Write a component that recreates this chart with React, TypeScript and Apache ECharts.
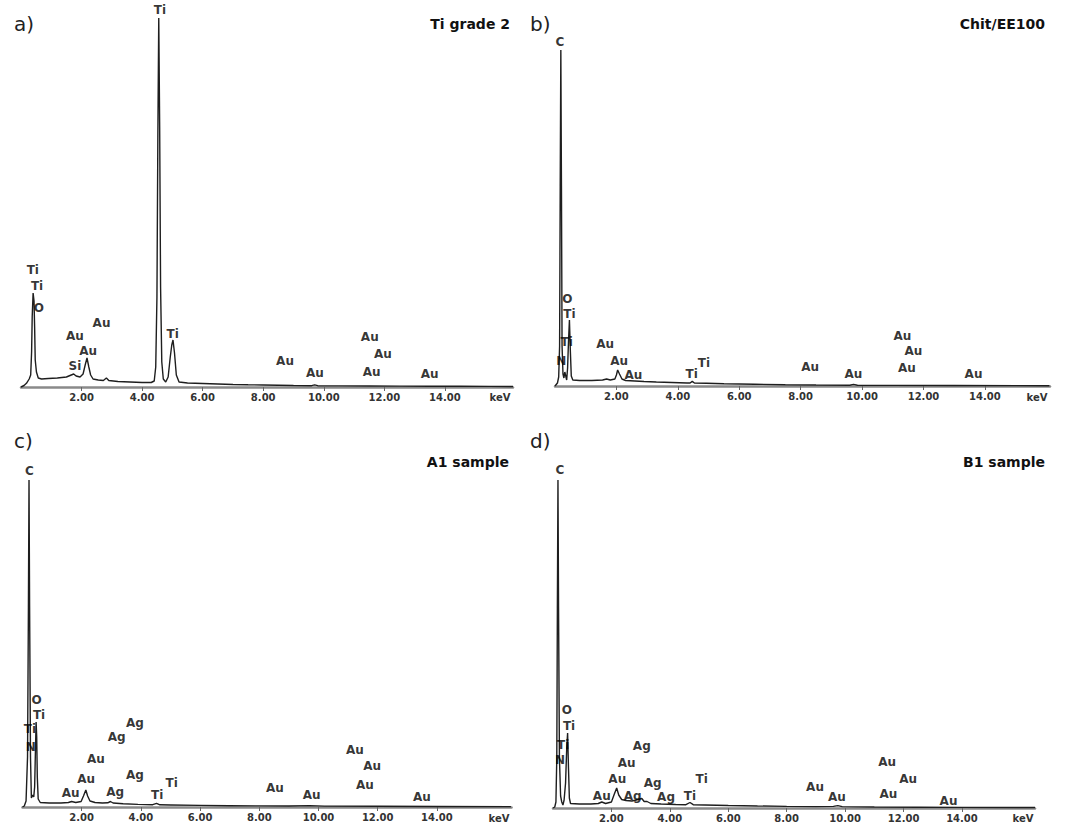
import React, { useEffect, useRef } from "react";
import * as echarts from "echarts";

// EDS spectra: [energy keV, intensity (counts, arbitrary units)]
const spectrumA: [number, number][] = [
  [0, 0], [0.1, 1.5], [0.18, 3.7], [0.27, 8], [0.32, 12], [0.35, 35], [0.37, 70], [0.4, 94], [0.43, 86],
  [0.45, 60], [0.47, 27], [0.51, 15], [0.57, 9], [0.68, 8], [0.9, 8.5], [1.2, 9], [1.5, 10], [1.66, 12],
  [1.74, 13], [1.82, 11], [1.95, 10], [2.05, 13], [2.12, 22], [2.18, 29], [2.24, 20], [2.3, 12], [2.38, 8],
  [2.55, 7], [2.72, 6.5], [2.82, 9], [2.9, 6.5], [3.2, 5.5], [3.6, 5], [4.0, 4.5], [4.3, 4.5], [4.4, 6],
  [4.45, 20], [4.49, 90], [4.52, 250], [4.55, 369], [4.58, 260], [4.61, 100], [4.65, 25], [4.7, 8],
  [4.78, 5], [4.86, 10], [4.93, 30], [4.98, 42], [5.02, 47], [5.07, 34], [5.13, 12], [5.22, 5], [5.5, 4],
  [6.0, 3.5], [6.5, 3], [7.0, 2.5], [7.5, 2.2], [8.0, 2], [8.5, 1.8], [9.0, 1.5], [9.6, 1.3], [9.7, 2.2],
  [9.8, 1.3], [10.5, 1.1], [11.5, 1], [12.5, 0.9], [13.5, 0.8], [14.5, 0.7], [15.5, 0.6], [16.25, 0.5],
];
const spectrumB: [number, number][] = [
  [0, 0], [0.08, 3], [0.12, 9], [0.15, 40], [0.17, 200], [0.19, 336], [0.21, 200], [0.23, 40], [0.26, 12],
  [0.29, 8], [0.32, 14], [0.35, 10], [0.38, 6], [0.41, 18], [0.44, 45], [0.47, 66], [0.5, 35], [0.53, 10],
  [0.58, 6], [0.8, 5.5], [1.2, 5.5], [1.55, 6], [1.68, 7], [1.8, 6], [1.95, 7], [2.0, 11], [2.04, 16],
  [2.1, 12], [2.18, 7], [2.3, 5.5], [2.6, 5], [2.9, 4.5], [3.3, 4], [3.8, 3.5], [4.3, 3], [4.4, 3],
  [4.47, 4.6], [4.54, 3], [4.93, 2.8], [5.5, 2.2], [6.5, 1.7], [7.5, 1.3], [8.5, 1.0], [9.6, 0.8],
  [9.72, 1.6], [9.85, 0.8], [11, 0.6], [13, 0.5], [16.1, 0.3],
];
const spectrumC: [number, number][] = [
  [0, 0], [0.06, 1], [0.12, 6], [0.17, 50], [0.2, 200], [0.22, 327], [0.24, 200], [0.27, 50], [0.3, 9],
  [0.34, 12], [0.38, 10], [0.41, 20], [0.44, 60], [0.46, 85], [0.48, 70], [0.5, 30], [0.53, 8], [0.6, 4.5],
  [0.9, 4], [1.3, 4], [1.55, 4.5], [1.66, 5.5], [1.8, 4.5], [1.98, 5.5], [2.06, 11], [2.14, 17], [2.2, 11],
  [2.28, 6], [2.45, 4.5], [2.7, 4], [2.88, 4.2], [2.97, 5.5], [3.06, 4], [3.4, 3.2], [3.9, 2.6], [4.4, 2.3],
  [4.53, 3.6], [4.64, 2.2], [5.0, 2], [6, 1.6], [7, 1.3], [8, 1.1], [9, 1], [9.7, 1.4], [10.2, 0.9],
  [12, 0.7], [14, 0.5], [16.5, 0.4],
];
const spectrumD: [number, number][] = [
  [0, 0], [0.06, 1], [0.1, 6], [0.13, 50], [0.15, 200], [0.17, 328], [0.19, 200], [0.22, 50], [0.26, 12],
  [0.3, 6], [0.34, 3], [0.38, 8], [0.43, 25], [0.47, 60], [0.5, 75], [0.53, 40], [0.56, 10], [0.6, 4.5],
  [0.9, 4], [1.3, 4], [1.55, 4.5], [1.67, 6], [1.8, 4.5], [2.0, 6], [2.1, 14], [2.18, 20], [2.25, 13],
  [2.35, 8.5], [2.5, 7.5], [2.7, 7], [2.85, 8], [3.04, 9.5], [3.12, 6.5], [3.22, 6.5], [3.35, 4.5],
  [3.7, 4], [4.2, 3.5], [4.55, 3.3], [4.69, 5.5], [4.8, 3.3], [5.2, 3], [6, 2.5], [7, 2], [8, 1.6],
  [9, 1.4], [9.6, 1.6], [9.75, 2.4], [9.9, 1.4], [11, 1], [12.5, 0.8], [14, 0.6], [16.5, 0.5],
];

// Peak annotations: [energy keV, intensity, element]
const peaksA: [number, number, string][] = [
  [0.39, 117, "Ti"], [0.53, 101, "Ti"], [0.59, 79, "O"], [1.78, 51, "Au"], [2.66, 64, "Au"],
  [2.22, 36, "Au"], [1.78, 21, "Si"], [4.59, 377, "Ti"], [5.01, 53, "Ti"], [8.72, 26, "Au"],
  [9.71, 14, "Au"], [11.52, 50, "Au"], [11.95, 33, "Au"], [11.58, 15, "Au"], [13.5, 13, "Au"],
];
const peaksB: [number, number, string][] = [
  [0.16, 344, "C"], [0.4, 87, "O"], [0.47, 72, "Ti"], [0.38, 44, "Ti"], [0.2, 25, "N"],
  [1.63, 42, "Au"], [2.09, 25, "Au"], [2.55, 11, "Au"], [4.45, 12, "Ti"], [4.85, 23, "Ti"],
  [8.31, 19, "Au"], [9.72, 12, "Au"], [11.31, 50, "Au"], [11.67, 35, "Au"], [11.46, 18, "Au"], [13.63, 12, "Au"],
];
const peaksC: [number, number, string][] = [
  [0.23, 336, "C"], [0.48, 107, "O"], [0.56, 92, "Ti"], [0.25, 78, "Ti"], [0.28, 60, "N"],
  [3.8, 84, "Ag"], [3.18, 70, "Ag"], [2.48, 48, "Au"], [2.15, 28, "Au"], [1.63, 14, "Au"],
  [3.8, 32, "Ag"], [3.13, 15, "Ag"], [5.04, 24, "Ti"], [4.55, 12, "Ti"], [8.53, 19, "Au"],
  [9.77, 12, "Au"], [11.23, 57, "Au"], [11.81, 41, "Au"], [11.57, 22, "Au"], [13.49, 10, "Au"],
];
const peaksD: [number, number, string][] = [
  [0.24, 338, "C"], [0.47, 98, "O"], [0.55, 82, "Ti"], [0.35, 63, "Ti"], [0.24, 48, "N"],
  [3.04, 62, "Ag"], [2.52, 45, "Au"], [2.2, 29, "Au"], [1.67, 12, "Au"], [2.73, 12, "Ag"],
  [3.41, 25, "Ag"], [3.87, 11, "Ag"], [4.69, 12, "Ti"], [5.09, 29, "Ti"], [8.97, 21, "Au"],
  [9.72, 11, "Au"], [11.44, 46, "Au"], [12.16, 29, "Au"], [11.48, 14, "Au"], [13.54, 7, "Au"],
];

const tickValues = [2, 4, 6, 8, 10, 12, 14];
const panelLetters = ["a)", "b)", "c)", "d)"];
const panelTitles = ["Ti grade 2", "Chit/EE100", "A1 sample", "B1 sample"];
const unitLabel = "keV";

const spectra = [spectrumA, spectrumB, spectrumC, spectrumD];
const peaks = [peaksA, peaksB, peaksC, peaksD];
const xMaxes = [16.25, 16.12, 16.52, 16.5];
const yMaxes = [369, 336, 327, 328];

const grids = [
  { left: 21, top: 18, width: 492, height: 369 },
  { left: 555, top: 50, width: 495, height: 336 },
  { left: 22.5, top: 480, width: 489, height: 327 },
  { left: 553, top: 480, width: 482, height: 328 },
];
const letterPos = [[14, 24], [530, 24], [14, 441], [530, 441]];
const titlePos = [[510, 24], [1045, 24], [509, 462], [1045, 462]];
const unitPos = [[500, 397], [1037, 397], [499, 818], [1023, 818]];

const FONT = "DejaVu Sans";

export default function App() {
  const ref = useRef<HTMLDivElement>(null);
  useEffect(() => {
    if (!ref.current) return;
    const chart = echarts.init(ref.current, null, { renderer: "svg" });
    const option: any = {
      animation: false,
      backgroundColor: "#ffffff",
      grid: grids.map((g) => ({ ...g, containLabel: false, outerBoundsMode: "none" })),
      xAxis: grids.map((_, i) => ({
        type: "value",
        gridIndex: i,
        min: 0,
        max: xMaxes[i],
        splitLine: { show: false },
        axisLine: { show: true, onZero: false, lineStyle: { color: "#8a8a8a", width: 2.5 } },
        axisTick: { show: true, customValues: tickValues, length: 4, lineStyle: { color: "#666", width: 1 } },
        axisLabel: {
          show: true,
          customValues: tickValues,
          formatter: (v: number) => v.toFixed(2),
          fontFamily: FONT,
          fontWeight: "bold",
          fontSize: 10,
          color: "#333",
          margin: 5,
        },
      })),
      yAxis: grids.map((_, i) => ({
        type: "value",
        gridIndex: i,
        min: 0,
        max: yMaxes[i],
        show: false,
      })),
      series: [
        ...spectra.map((d, i) => ({
          type: "line",
          xAxisIndex: i,
          yAxisIndex: i,
          data: d,
          showSymbol: false,
          symbol: "none",
          clip: false,
          lineStyle: { color: "#1e1e1e", width: 1.4 },
        })),
        ...peaks.map((d, i) => ({
          type: "scatter",
          xAxisIndex: i,
          yAxisIndex: i,
          data: d,
          symbolSize: 1,
          clip: false,
          itemStyle: { color: "transparent" },
          label: {
            show: true,
            position: "inside",
            formatter: (p: any) => p.value[2],
            fontFamily: FONT,
            fontWeight: "bold",
            fontSize: 12,
            lineHeight: 12,
            color: "#000",
          },
          z: 5,
        })),
      ],
      graphic: [
        ...panelLetters.map((t, i) => ({
          type: "text",
          x: letterPos[i][0],
          y: letterPos[i][1],
          style: { text: t, font: `20px '${FONT}'`, fill: "#222", textVerticalAlign: "middle", textAlign: "left" },
        })),
        ...panelTitles.map((t, i) => ({
          type: "text",
          x: titlePos[i][0],
          y: titlePos[i][1],
          style: { text: t, font: `bold 14px '${FONT}'`, fill: "#111", textVerticalAlign: "middle", textAlign: "right" },
        })),
        ...unitPos.map((p) => ({
          type: "text",
          x: p[0],
          y: p[1],
          style: { text: unitLabel, font: `bold 10px '${FONT}'`, fill: "#333", textVerticalAlign: "middle", textAlign: "center" },
        })),
      ],
    };
    chart.setOption(option);
    return () => chart.dispose();
  }, []);
  return (
    <div
      ref={ref}
      style={{ position: "fixed", left: 0, top: 0, width: 1069, height: 835, background: "#fff" }}
    />
  );
}
